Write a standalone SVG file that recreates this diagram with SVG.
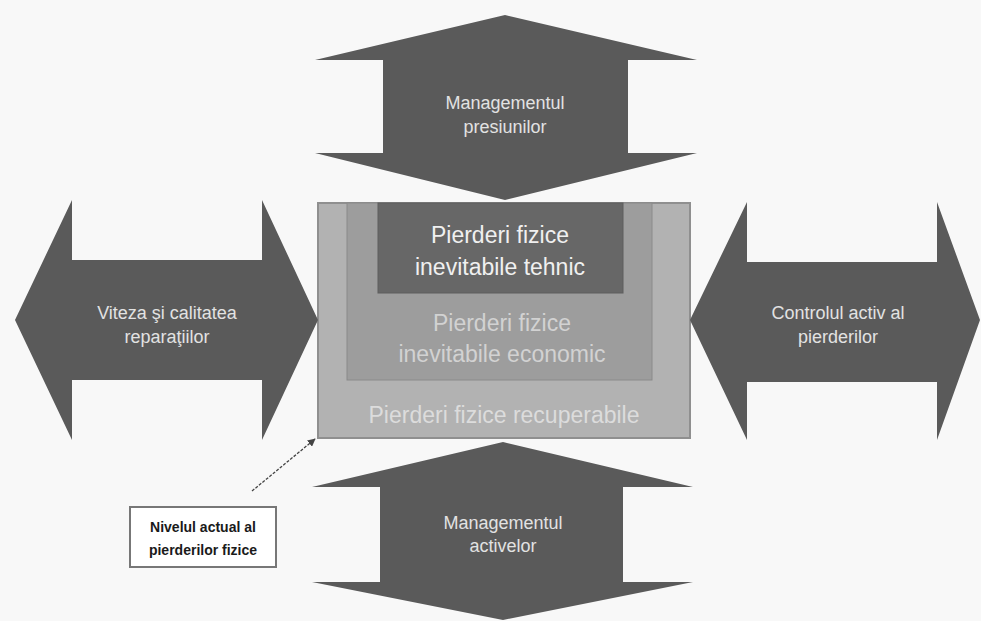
<svg xmlns="http://www.w3.org/2000/svg" width="981" height="621" viewBox="0 0 981 621">
  <defs>
    <style>
      .arrow { fill: #5a5a5a; }
      .alabel { font-family: "Liberation Sans", Arial, sans-serif; font-size: 18px; fill: #e2e2e2; text-anchor: middle; }
      .blabel { font-family: "Liberation Sans", Arial, sans-serif; font-size: 23px; text-anchor: middle; }
      .callout { font-family: "Liberation Sans", Arial, sans-serif; font-size: 14px; font-weight: bold; fill: #1a1a1a; text-anchor: middle; }
    </style>
    <marker id="head" viewBox="0 0 10 10" refX="9" refY="5" markerWidth="8" markerHeight="8" orient="auto-start-reverse" markerUnits="userSpaceOnUse">
      <path d="M0,0 L10,5 L0,10 z" fill="#444"/>
    </marker>
  </defs>
  <rect width="981" height="621" fill="#f8f8f8"/>

  <g id="top-arrow">
    <polygon class="arrow" points="505,15 697,60 628,60 628,153 697,153 505,200 315,153 383,153 383,60 315,60"/>
    <text class="alabel" x="505" y="109">Managementul</text>
    <text class="alabel" x="505" y="133">presiunilor</text>
  </g>

  <g id="central-box">
    <rect x="318" y="203" width="372" height="235" fill="#b2b2b2" stroke="#8f8f8f" stroke-width="2"/>
    <rect x="347" y="203" width="305" height="177" fill="#9d9d9d" stroke="#8a8a8a" stroke-width="1"/>
    <rect x="378" y="203" width="245" height="90" fill="#676767" stroke="#5e5e5e" stroke-width="1"/>
    <text class="blabel" x="500" y="243" fill="#f0f0f0">Pierderi fizice</text>
    <text class="blabel" x="500" y="275" fill="#f0f0f0">inevitabile tehnic</text>
    <text class="blabel" x="502" y="331" fill="#d2d2d2">Pierderi fizice</text>
    <text class="blabel" x="502" y="362" fill="#d2d2d2">inevitabile economic</text>
    <text class="blabel" x="504" y="423" fill="#dcdcdc">Pierderi fizice recuperabile</text>
  </g>

  <g id="left-arrow">
    <polygon class="arrow" points="15,320 72,200 72,260 262,260 262,200 318,320 262,440 262,380 72,380 72,440"/>
    <text class="alabel" x="167" y="319">Viteza şi calitatea</text>
    <text class="alabel" x="167" y="343">reparaţiilor</text>
  </g>

  <g id="right-arrow">
    <polygon class="arrow" points="690,320 747,202 747,262 937,262 937,202 980,320 937,440 937,382 747,382 747,440"/>
    <text class="alabel" x="838" y="319">Controlul activ al</text>
    <text class="alabel" x="838" y="343">pierderilor</text>
  </g>

  <g id="bottom-arrow">
    <polygon class="arrow" points="503,442 693,487 623,487 623,582 693,582 503,620 312,582 380,582 380,487 312,487"/>
    <text class="alabel" x="503" y="529">Managementul</text>
    <text class="alabel" x="503" y="552">activelor</text>
  </g>

  <g id="callout">
    <rect x="130" y="507" width="146" height="60" fill="#ffffff" stroke="#777" stroke-width="2"/>
    <text class="callout" x="203" y="532">Nivelul actual al</text>
    <text class="callout" x="203" y="555">pierderilor fizice</text>
  </g>

  <g id="connectors">
    <line x1="252" y1="491" x2="315" y2="439" stroke="#444" stroke-width="1.3" stroke-dasharray="3,1.5" marker-end="url(#head)"/>
  </g>
</svg>
